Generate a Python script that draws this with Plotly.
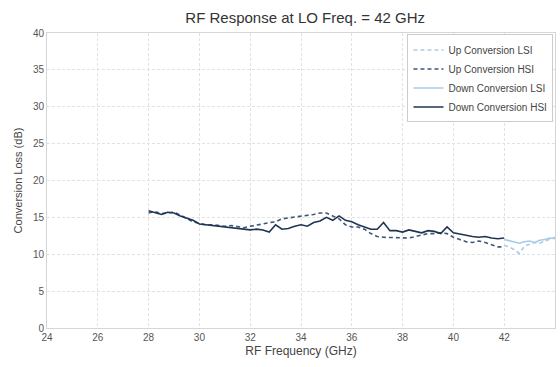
import plotly.graph_objects as go

# RF frequency sweeps (GHz) and conversion loss (dB)
freq_hsi = [28.0, 28.25, 28.5, 28.75, 29.0, 29.25, 29.5, 29.75, 30.0, 30.25, 30.5, 30.75,
            31.0, 31.25, 31.5, 31.75, 32.0, 32.25, 32.5, 32.75, 33.0, 33.25, 33.5, 33.75,
            34.0, 34.25, 34.5, 34.75, 35.0, 35.25, 35.5, 35.75, 36.0, 36.25, 36.5, 36.75,
            37.0, 37.25, 37.5, 37.75, 38.0, 38.25, 38.5, 38.75, 39.0, 39.25, 39.5, 39.75,
            40.0, 40.25, 40.5, 40.75, 41.0, 41.25, 41.5, 41.75, 42.0]

up_hsi = [15.6, 15.8, 15.5, 15.6, 15.7, 15.3, 14.8, 14.4, 14.2, 14.0, 14.0, 13.9,
          13.8, 13.9, 13.8, 13.6, 13.8, 13.9, 14.1, 14.3, 14.4, 14.8, 14.9, 15.1,
          15.1, 15.2, 15.4, 15.6, 15.6, 15.2, 14.8, 14.0, 13.7, 13.7, 13.4, 12.8,
          12.4, 12.3, 12.3, 12.2, 12.3, 12.2, 12.4, 12.6, 12.8, 12.8, 12.9, 12.8,
          12.3, 12.0, 11.7, 11.6, 11.8, 11.6, 11.3, 11.0, 11.0]

down_hsi = [15.9, 15.6, 15.4, 15.7, 15.6, 15.2, 14.9, 14.6, 14.1, 14.0, 13.9, 13.8,
            13.8, 13.6, 13.5, 13.4, 13.3, 13.4, 13.3, 13.0, 14.0, 13.4, 13.5, 13.8,
            14.0, 13.8, 14.3, 14.5, 15.0, 14.6, 15.2, 14.6, 14.4, 14.0, 13.7, 13.4,
            13.4, 14.3, 13.2, 13.2, 13.0, 13.3, 13.1, 12.9, 13.2, 13.1, 12.8, 13.7,
            12.9, 12.7, 12.5, 12.4, 12.3, 12.4, 12.2, 12.1, 12.2]

freq_lsi = [42.0, 42.2, 42.4, 42.6, 42.8, 43.0, 43.2, 43.4, 43.6, 43.8, 44.0]
up_lsi = [11.2, 11.0, 10.6, 10.1, 11.1, 11.4, 11.6, 11.5, 11.8, 12.1, 12.3]
down_lsi = [12.0, 11.8, 11.6, 11.5, 11.7, 11.8, 11.6, 11.9, 12.0, 12.2, 12.1]

x_ticks = [24, 26, 28, 30, 32, 34, 36, 38, 40, 42, 44]
y_ticks = [0, 5, 10, 15, 20, 25, 30, 35, 40]

LIGHT = "#a9cbe8"
DARK_DASH = "#3d5878"
DARK = "#1f3552"
DASH = "4px,3px"

fig = go.Figure()
fig.add_trace(go.Scatter(x=freq_lsi, y=up_lsi, mode="lines", name="Up Conversion LSI",
                         line=dict(color=LIGHT, width=1.6, dash=DASH)))
fig.add_trace(go.Scatter(x=freq_hsi, y=up_hsi, mode="lines", name="Up Conversion HSI",
                         line=dict(color=DARK_DASH, width=1.6, dash=DASH)))
fig.add_trace(go.Scatter(x=freq_lsi, y=down_lsi, mode="lines", name="Down Conversion LSI",
                         line=dict(color=LIGHT, width=1.6)))
fig.add_trace(go.Scatter(x=freq_hsi, y=down_hsi, mode="lines", name="Down Conversion HSI",
                         line=dict(color=DARK, width=1.6)))

axis_common = dict(
    showgrid=True, gridcolor="#e2e2e2", griddash="3px,2px", gridwidth=1,
    showline=True, linecolor="#d6d6d6", linewidth=1, mirror=True,
    ticks="", zeroline=False,
    tickfont=dict(family="Liberation Sans, Arial, sans-serif", size=10, color="#555555"),
)

fig.update_layout(
    width=560, height=367,
    margin=dict(l=47, r=5, t=33, b=39),
    paper_bgcolor="white", plot_bgcolor="white",
    font=dict(family="Liberation Sans, Arial, sans-serif", color="#444444"),
    title=dict(text="RF Response at LO Freq. = 42 GHz", x=0.545, xanchor="center",
               y=0.952, yanchor="middle",
               font=dict(size=15, color="#333333")),
    xaxis=dict(range=[24, 44], tickvals=x_ticks,
               title=dict(text="RF Frequency (GHz)", font=dict(size=12, color="#444444"),
                          standoff=4),
               **axis_common),
    yaxis=dict(range=[0, 40], tickvals=y_ticks,
               title=dict(text="Conversion Loss (dB)", font=dict(size=11, color="#444444"),
                          standoff=8),
               **axis_common),
    legend=dict(x=0.997, y=0.995, xanchor="right", yanchor="top",
                bgcolor="white", bordercolor="#cccccc", borderwidth=1,
                font=dict(size=10, color="#444444"),
                tracegroupgap=0, itemwidth=30),
    showlegend=True,
)

fig.write_html("out.html")
